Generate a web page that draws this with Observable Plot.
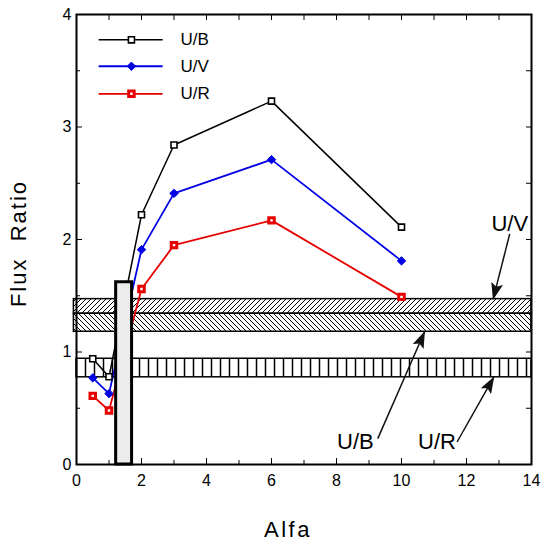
<!DOCTYPE html>
<html><head><meta charset="utf-8">
<script src="https://cdn.jsdelivr.net/npm/d3@7"></script>
<script src="https://cdn.jsdelivr.net/npm/@observablehq/plot@0.6"></script>
<style>html,body{margin:0;padding:0;background:#fff;}</style>
</head><body><div id="chart"></div>
<script>
// ---- data ----
const alfa = [0.5, 1, 2, 3, 6, 10];
const fluxUB = [0.94, 0.78, 2.22, 2.84, 3.23, 2.11];
const fluxUV = [0.77, 0.63, 1.91, 2.41, 2.71, 1.81];
const fluxUR = [0.61, 0.48, 1.56, 1.95, 2.17, 1.49];
const seriesNames = ["U/B", "U/V", "U/R"];
const xTickValues = [0, 2, 4, 6, 8, 10, 12, 14];
const yTickValues = [0, 1, 2, 3, 4];
// observed bands
const bandNames = ["U/V", "U/B", "U/R"];
const bandLow = [1.34, 1.18, 0.775];
const bandHigh = [1.47, 1.34, 0.94];
const bandStart = [-0.08, -0.08, 0];
const bandEnd = [14, 14, 14];
// vertical box
const boxX = [1.22, 1.71];
const boxY = [0, 1.62];
// annotations
const annotLabels = ["U/V", "U/B", "U/R"];
const annotTextX = [13.33, 8.58, 11.09];
const annotTextY = [2.14, 0.20, 0.20];
const arrowFromX = [13.33, 9.27, 11.71];
const arrowFromY = [2.05, 0.23, 0.20];
const arrowToX = [12.82, 10.71, 12.84];
const arrowToY = [1.47, 1.18, 0.776];
// legend placement (data coords)
const legendY = [3.775, 3.54, 3.295];

// ---- styles ----
const seriesStyle = {
  "U/B": {color: "#000000", symbol: "square", r: 3.4, fill: "white", sw: 1.6, lw: 1.5},
  "U/V": {color: "#0000e6", symbol: "diamond2", r: 3.8, fill: "#0000e6", sw: 1, lw: 1.8},
  "U/R": {color: "#e60000", symbol: "square", r: 3.1, fill: "white", sw: 3, lw: 1.8}
};
const bandPattern = {"U/V": "url(#hatchFwd)", "U/B": "url(#hatchBack)", "U/R": "url(#hatchVert)"};

const fluxBySeries = {"U/B": fluxUB, "U/V": fluxUV, "U/R": fluxUR};
const rows = seriesNames.flatMap(s => alfa.map((a, i) => ({series: s, alfa: a, flux: fluxBySeries[s][i]})));
const bands = bandNames.map((n, i) => ({name: n, x1: bandStart[i], x2: bandEnd[i], y1: bandLow[i], y2: bandHigh[i]}));
const annots = annotLabels.map((l, i) => ({label: l, tx: annotTextX[i], ty: annotTextY[i], x1: arrowFromX[i], y1: arrowFromY[i], x2: arrowToX[i], y2: arrowToY[i]}));
const legend = seriesNames.map((s, i) => ({series: s, y: legendY[i]}));

const marks = [];
bands.forEach(b => marks.push(Plot.rect([b], {x1: "x1", x2: "x2", y1: "y1", y2: "y2", fill: bandPattern[b.name], stroke: "black", strokeWidth: 1.5})));
seriesNames.forEach(s => {
  const st = seriesStyle[s];
  const d = rows.filter(r => r.series === s);
  marks.push(Plot.line(d, {x: "alfa", y: "flux", stroke: st.color, strokeWidth: st.lw}));
});
seriesNames.forEach(s => {
  const st = seriesStyle[s];
  const d = rows.filter(r => r.series === s);
  marks.push(Plot.dot(d, {x: "alfa", y: "flux", symbol: st.symbol, r: st.r, fill: st.fill, stroke: st.color, strokeWidth: st.sw}));
});
// legend
seriesNames.forEach((s, i) => {
  const st = seriesStyle[s];
  marks.push(Plot.link([legend[i]], {x1: 0.68, x2: 2.65, y1: "y", y2: "y", stroke: st.color, strokeWidth: st.lw}));
  marks.push(Plot.dot([legend[i]], {x: 1.69, y: "y", symbol: st.symbol, r: st.r, fill: st.fill, stroke: st.color, strokeWidth: st.sw}));
  marks.push(Plot.text([legend[i]], {x: 3.2, y: "y", text: "series", textAnchor: "start", fontSize: 17}));
});
// vertical box
marks.push(Plot.rect([{x1: boxX[0], x2: boxX[1], y1: boxY[0], y2: boxY[1]}], {x1: "x1", x2: "x2", y1: "y1", y2: "y2", fill: "#ececec", stroke: "black", strokeWidth: 3}));
// annotations
marks.push(Plot.link(annots, {x1: "x1", y1: "y1", x2: "x2", y2: "y2", stroke: "#111", strokeWidth: 1.5, ariaDescription: "arrows"}));
marks.push(Plot.text(annots, {x: "tx", y: "ty", text: "label", fontSize: 22}));
// frame
marks.push(Plot.frame({stroke: "black", strokeWidth: 2}));
// axes
marks.push(Plot.axisX({anchor: "bottom", ticks: xTickValues, tickSize: 0, tickPadding: 10, fontSize: 16, tickFormat: d3.format("d"), label: null}));
marks.push(Plot.axisX({anchor: "bottom", ticks: xTickValues, tickSize: -6, tickFormat: () => "", label: null}));
marks.push(Plot.axisX({anchor: "bottom", ticks: d3.range(1, 14, 2), tickSize: -4, tickFormat: () => "", label: null}));
marks.push(Plot.axisX({anchor: "top", ticks: d3.range(1, 14, 1), tickSize: -5, tickFormat: () => "", label: null}));
marks.push(Plot.axisY({anchor: "left", ticks: yTickValues, tickSize: 0, tickPadding: 5, fontSize: 16, tickFormat: d3.format("d"), label: null}));
marks.push(Plot.axisY({anchor: "left", ticks: [1, 2, 3], tickSize: -6, tickFormat: () => "", label: null}));
marks.push(Plot.axisY({anchor: "left", ticks: [0.5, 1.5, 2.5, 3.5], tickSize: -4, tickFormat: () => "", label: null}));
marks.push(Plot.axisY({anchor: "right", ticks: [0.5, 1, 1.5, 2, 2.5, 3, 3.5], tickSize: -6, tickFormat: () => "", label: null}));
// axis titles
marks.push(Plot.text(["Alfa"], {frameAnchor: "bottom", text: d => d, textAnchor: "middle", lineAnchor: "middle", dy: 65, dx: -16, fontSize: 22, ariaDescription: "xtitle"}));
marks.push(Plot.text(["Flux  Ratio"], {frameAnchor: "left", text: d => d, textAnchor: "middle", lineAnchor: "middle", rotate: -90, dx: -58, dy: 4, fontSize: 22, ariaDescription: "ytitle"}));

const svg = Plot.plot({
  width: 545, height: 545,
  marginLeft: 76, marginRight: 14, marginTop: 14, marginBottom: 81,
  x: {domain: [0, 14]},
  y: {domain: [0, 4]},
  style: {fontFamily: "'Liberation Sans', Arial, sans-serif", fontSize: "16px", color: "black", background: "white"},
  marks
});

// patterns and arrowheads
const defs = d3.select(svg).insert("defs", ":first-child");
const p1 = defs.append("pattern").attr("id", "hatchFwd").attr("patternUnits", "userSpaceOnUse").attr("width", 5).attr("height", 5);
p1.append("rect").attr("width", 5).attr("height", 5).attr("fill", "white");
p1.append("path").attr("d", "M-1,1L1,-1M0,5L5,0M4,6L6,4").attr("stroke", "black").attr("stroke-width", 1);
const p2 = defs.append("pattern").attr("id", "hatchBack").attr("patternUnits", "userSpaceOnUse").attr("width", 5).attr("height", 5);
p2.append("rect").attr("width", 5).attr("height", 5).attr("fill", "white");
p2.append("path").attr("d", "M-1,4L1,6M0,0L5,5M4,-1L6,1").attr("stroke", "black").attr("stroke-width", 1);
const p3 = defs.append("pattern").attr("id", "hatchVert").attr("patternUnits", "userSpaceOnUse").attr("width", 9).attr("height", 10);
p3.append("rect").attr("width", 9).attr("height", 10).attr("fill", "white");
p3.append("path").attr("d", "M4.5,0L4.5,10").attr("stroke", "black").attr("stroke-width", 1.5);
defs.append("marker").attr("id", "arrowHead").attr("viewBox", "0 0 10 10").attr("refX", 9.5).attr("refY", 5)
  .attr("markerWidth", 17).attr("markerHeight", 12).attr("preserveAspectRatio", "none")
  .attr("markerUnits", "userSpaceOnUse").attr("orient", "auto")
  .append("path").attr("d", "M0,0L10,5L0,10L2,5Z").attr("fill", "#111");
d3.select(svg).selectAll('g[aria-description="arrows"] path').attr("marker-end", "url(#arrowHead)");
d3.select(svg).selectAll('g[aria-description="xtitle"] text').attr("letter-spacing", "2.5px");
d3.select(svg).selectAll('g[aria-description="ytitle"] text').attr("letter-spacing", "2px").style("white-space", "pre");

document.getElementById("chart").appendChild(svg);
</script>
</body></html>
